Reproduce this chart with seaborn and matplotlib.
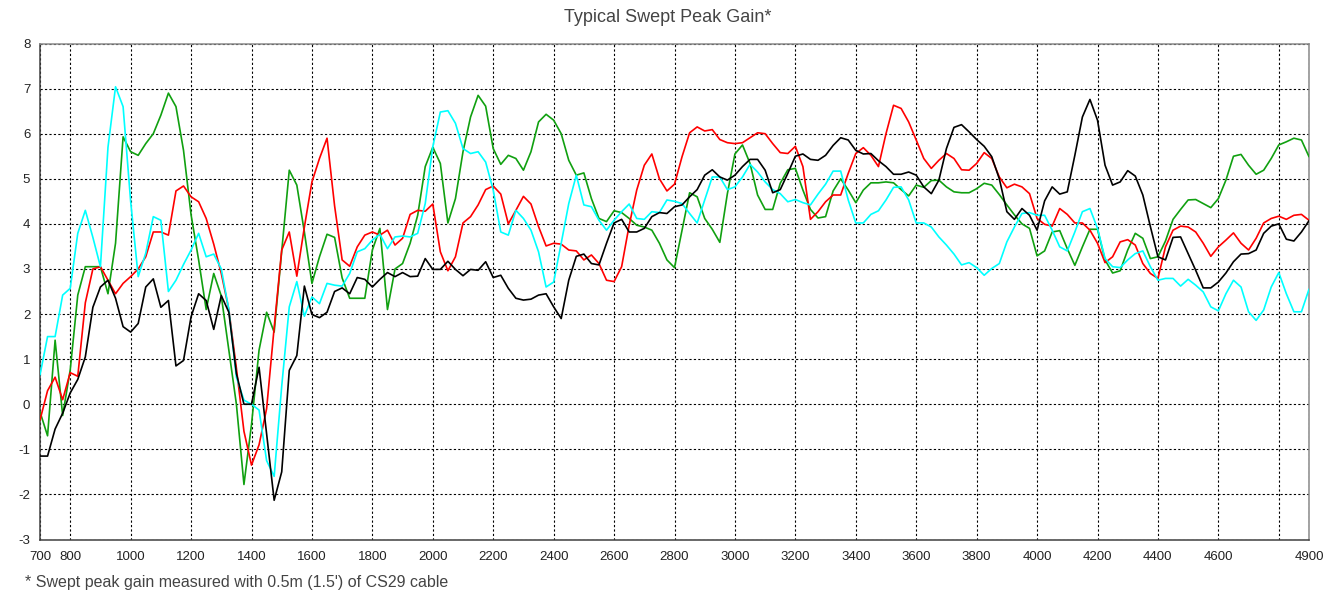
import numpy as np
import pandas as pd
import matplotlib
matplotlib.use("Agg")
import matplotlib.pyplot as plt
import seaborn as sns

# frequency grid of the sweep (MHz), one sample every 25 MHz
freq = np.arange(700, 4901, 25)

red = [-0.35, 0.3, 0.6, 0.1, 0.7, 0.62, 2.25, 3.0, 3.05, 2.75,
       2.45, 2.68, 2.83, 3.0, 3.27, 3.82, 3.82, 3.75, 4.73, 4.84,
       4.6, 4.49, 4.12, 3.55, 2.9, 2.1, 0.8, -0.6, -1.35, -0.9,
       -0.1, 1.7, 3.42, 3.82, 2.84, 3.93, 4.93, 5.45, 5.9, 4.4,
       3.2, 3.06, 3.49, 3.75, 3.82, 3.75, 3.86, 3.53, 3.68, 4.21,
       4.3, 4.28, 4.44, 3.38, 2.96, 3.27, 4.02, 4.16, 4.42, 4.76,
       4.84, 4.66, 4.0, 4.3, 4.61, 4.44, 3.94, 3.51, 3.57, 3.55,
       3.42, 3.4, 3.2, 3.31, 3.12, 2.75, 2.72, 3.05, 3.97, 4.75,
       5.3, 5.55, 5.0, 4.73, 4.88, 5.49, 6.02, 6.15, 6.06, 6.09,
       5.87, 5.8, 5.78, 5.8, 5.91, 6.02, 6.0, 5.78, 5.58, 5.56,
       5.72, 5.27, 4.1, 4.27, 4.49, 4.64, 4.64, 5.12, 5.56, 5.69,
       5.52, 5.27, 6.0, 6.63, 6.56, 6.26, 5.86, 5.45, 5.23, 5.41,
       5.56, 5.45, 5.2, 5.19, 5.34, 5.58, 5.45, 5.04, 4.8, 4.88,
       4.82, 4.67, 4.12, 3.99, 3.95, 4.34, 4.21, 4.02, 4.02, 3.86,
       3.57, 3.14, 3.27, 3.6, 3.65, 3.53, 3.12, 2.9, 2.79, 3.49,
       3.86, 3.95, 3.93, 3.82, 3.57, 3.28, 3.49, 3.64, 3.8, 3.57,
       3.42, 3.68, 4.02, 4.12, 4.17, 4.1, 4.19, 4.21, 4.08]

green = [-0.17, -0.7, 1.42, -0.25, 0.76, 2.42, 3.05, 3.05, 3.05, 2.45,
         3.57, 5.93, 5.6, 5.52, 5.78, 6.0, 6.41, 6.9, 6.6, 5.63,
         4.2, 3.2, 2.1, 2.9, 2.4, 1.2, 0.0, -1.78, -0.45, 1.2,
         2.04, 1.6, 3.4, 5.19, 4.86, 3.82, 2.68, 3.27, 3.77, 3.7,
         2.8, 2.35, 2.35, 2.35, 3.42, 3.9, 2.1, 3.0, 3.12, 3.57,
         4.19, 5.27, 5.7, 5.34, 4.02, 4.56, 5.6, 6.37, 6.85, 6.61,
         5.67, 5.32, 5.52, 5.45, 5.19, 5.6, 6.26, 6.43, 6.3, 6.0,
         5.41, 5.08, 5.13, 4.56, 4.12, 4.05, 4.29, 4.25, 4.12, 3.97,
         3.93, 3.86, 3.57, 3.2, 3.03, 3.86, 4.69, 4.6, 4.12, 3.88,
         3.59, 4.67, 5.55, 5.75, 5.34, 4.64, 4.32, 4.32, 4.9, 5.2,
         5.23, 4.75, 4.32, 4.13, 4.16, 4.73, 5.0, 4.75, 4.47, 4.75,
         4.91, 4.91, 4.93, 4.91, 4.76, 4.62, 4.86, 4.81, 4.96, 4.97,
         4.82, 4.71, 4.69, 4.69, 4.78, 4.9, 4.86, 4.65, 4.42, 4.2,
         4.0, 3.9, 3.29, 3.4, 3.82, 3.85, 3.45, 3.08, 3.49, 3.88,
         3.88, 3.2, 2.91, 2.96, 3.42, 3.79, 3.68, 3.23, 3.27, 3.62,
         4.1, 4.32, 4.53, 4.54, 4.45, 4.36, 4.56, 4.97, 5.5, 5.54,
         5.3, 5.1, 5.19, 5.45, 5.75, 5.82, 5.9, 5.86, 5.49]

cyan = [0.65, 1.5, 1.5, 2.42, 2.57, 3.79, 4.3, 3.7, 3.05, 5.7,
        7.04, 6.6, 4.5, 2.83, 3.35, 4.16, 4.08, 2.5, 2.75, 3.1,
        3.42, 3.79, 3.27, 3.33, 3.0, 2.1, 0.6, 0.09, 0.0, -0.13,
        -1.25, -1.6, 0.4, 2.16, 2.72, 1.95, 2.38, 2.23, 2.68, 2.64,
        2.62, 2.9, 3.38, 3.45, 3.64, 3.77, 3.45, 3.71, 3.73, 3.71,
        3.79, 4.45, 5.71, 6.48, 6.51, 6.23, 5.67, 5.56, 5.6, 5.37,
        4.75, 3.82, 3.75, 4.3, 4.12, 3.86, 3.38, 2.6, 2.71, 3.57,
        4.45, 5.08, 4.42, 4.38, 4.08, 3.86, 4.08, 4.27, 4.44, 4.12,
        4.1, 4.27, 4.25, 4.53, 4.5, 4.45, 4.23, 4.02, 4.53, 5.04,
        5.04, 4.76, 4.82, 5.04, 5.32, 5.15, 4.93, 4.76, 4.67, 4.49,
        4.54, 4.47, 4.42, 4.66, 4.88, 5.17, 5.17, 4.53, 4.02, 4.02,
        4.21, 4.29, 4.53, 4.81, 4.82, 4.53, 4.02, 4.02, 3.93, 3.71,
        3.53, 3.33, 3.09, 3.14, 3.03, 2.86, 3.01, 3.12, 3.6, 3.93,
        4.23, 4.25, 4.19, 4.19, 3.86, 3.49, 3.4, 3.82, 4.27, 4.34,
        3.9, 3.23, 3.05, 3.03, 3.2, 3.34, 3.4, 3.05, 2.75, 2.79,
        2.79, 2.62, 2.77, 2.64, 2.49, 2.16, 2.07, 2.45, 2.75, 2.6,
        2.05, 1.86, 2.09, 2.6, 2.92, 2.45, 2.05, 2.05, 2.55]

black = [-1.15, -1.15, -0.55, -0.2, 0.25, 0.55, 1.05, 2.15, 2.6, 2.75,
         2.35, 1.72, 1.6, 1.79, 2.6, 2.78, 2.15, 2.3, 0.85, 0.97,
         1.94, 2.45, 2.3, 1.66, 2.41, 2.04, 0.68, 0.0, 0.0, 0.82,
         -0.65, -2.13, -1.5, 0.75, 1.08, 2.62, 1.99, 1.92, 2.04, 2.5,
         2.58, 2.45, 2.81, 2.77, 2.6, 2.77, 2.92, 2.83, 2.92, 2.83,
         2.84, 3.23, 2.99, 2.99, 3.17, 2.99, 2.85, 2.99, 2.97, 3.16,
         2.81, 2.86, 2.57, 2.35, 2.31, 2.33, 2.42, 2.45, 2.16, 1.9,
         2.75, 3.28, 3.33, 3.12, 3.09, 3.57, 4.02, 4.1, 3.82, 3.82,
         3.9, 4.16, 4.25, 4.23, 4.38, 4.42, 4.6, 4.76, 5.08, 5.2,
         5.04, 4.97, 5.08, 5.27, 5.43, 5.43, 5.19, 4.69, 4.76, 5.12,
         5.5, 5.55, 5.43, 5.41, 5.52, 5.74, 5.91, 5.86, 5.63, 5.55,
         5.56, 5.4, 5.27, 5.1, 5.1, 5.15, 5.08, 4.82, 4.67, 4.97,
         5.67, 6.14, 6.2, 6.04, 5.87, 5.72, 5.49, 5.0, 4.27, 4.1,
         4.34, 4.19, 3.86, 4.51, 4.82, 4.66, 4.71, 5.52, 6.37, 6.76,
         6.3, 5.3, 4.86, 4.93, 5.18, 5.06, 4.64, 3.94, 3.27, 3.2,
         3.7, 3.71, 3.34, 2.97, 2.58, 2.58, 2.71, 2.91, 3.16, 3.33,
         3.34, 3.42, 3.79, 3.95, 4.0, 3.66, 3.62, 3.82, 4.07]

x_ticks = [700, 800, 1000, 1200, 1400, 1600, 1800, 2000, 2200, 2400, 2600,
           2800, 3000, 3200, 3400, 3600, 3800, 4000, 4200, 4400, 4600, 4800, 4900]
x_labels = ["700", "800", "1000", "1200", "1400", "1600", "1800", "2000", "2200",
            "2400", "2600", "2800", "3000", "3200", "3400", "3600", "3800", "4000",
            "4200", "4400", "4600", "", "4900"]
y_ticks = list(range(-3, 9))

title = "Typical Swept Peak Gain*"
footnote = "* Swept peak gain measured with 0.5m (1.5') of CS29 cable"

traces = {"green": green, "red": red, "cyan": cyan, "black": black}
palette = {"green": "#10a010", "red": "#ff0000", "cyan": "#00ffff", "black": "#000000"}

df = pd.concat(
    [pd.DataFrame({"freq": freq, "gain": vals, "trace": name}) for name, vals in traces.items()],
    ignore_index=True,
)

sns.set_style("white")
plt.rcParams["font.family"] = ["Liberation Sans", "DejaVu Sans"]

W, H = 1340, 594
fig = plt.figure(figsize=(W / 100, H / 100), dpi=100)
ax = fig.add_axes([40 / W, 1 - 539.5 / H, (1309 - 40) / W, (539.5 - 43.5) / H])

sns.lineplot(data=df, x="freq", y="gain", hue="trace", hue_order=list(traces),
             palette=palette, estimator=None, sort=False, lw=1.2,
             legend=False, ax=ax, zorder=3)

ax.set_xlim(700, 4900)
ax.set_ylim(-3, 8)
ax.set_xticks(x_ticks)
ax.set_xticklabels(x_labels)
ax.set_yticks(y_ticks)
ax.set_yticklabels([str(v) for v in y_ticks])
ax.set_xlabel("")
ax.set_ylabel("")

ax.grid(True, color="black", lw=0.8, ls=(0, (2, 2)), zorder=1)
ax.set_axisbelow(True)

for side in ("left", "bottom"):
    ax.spines[side].set_color("#404040")
    ax.spines[side].set_linewidth(1.1)
for side in ("top", "right"):
    ax.spines[side].set_color("#8a8a8a")
    ax.spines[side].set_linewidth(1.1)

ax.tick_params(axis="both", direction="inout", length=4, width=0.8,
               color="#404040", labelsize=9.5, labelcolor="#222222")
ax.tick_params(axis="x", pad=6)
ax.tick_params(axis="y", pad=5)

fig.text(668 / W, 1 - 18 / H, title, ha="center", va="center",
         fontsize=13, color="#444444")
fig.text(25 / W, 1 - 583 / H, footnote, ha="left", va="center",
         fontsize=11.5, color="#444444")

fig.savefig("out.png", dpi=100)
